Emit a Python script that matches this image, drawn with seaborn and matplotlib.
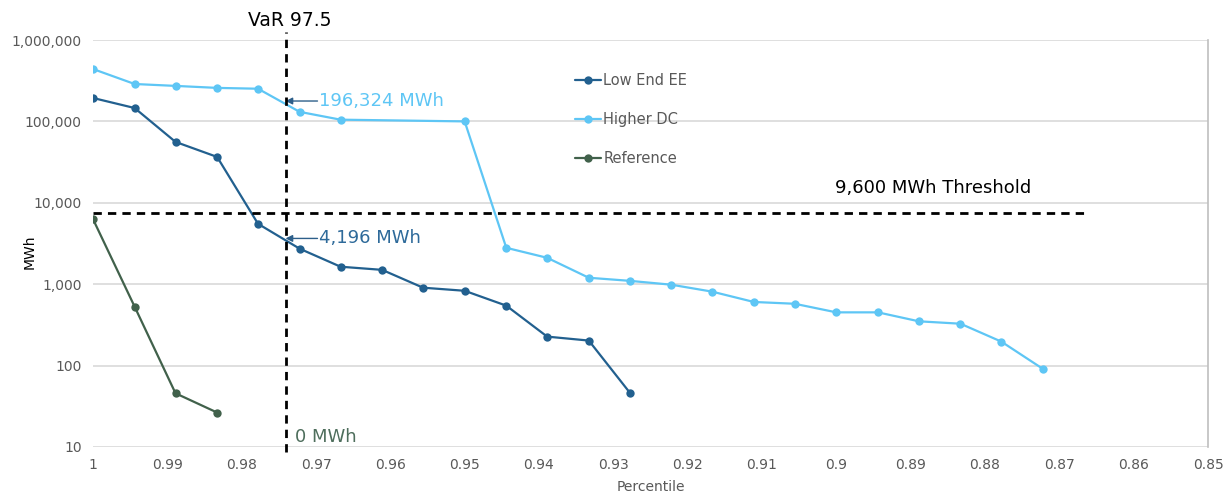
import numpy as np
import pandas as pd
import seaborn as sns
import matplotlib
matplotlib.use('Agg')
import matplotlib.pyplot as plt
from matplotlib.ticker import FixedLocator, FuncFormatter

# data
low_pct = [1.0, 0.9944, 0.9889, 0.9833, 0.9778, 0.9722, 0.9667, 0.9611, 0.9556, 0.95,
           0.9444, 0.9389, 0.9333, 0.9278]
low_mwh = [194000, 146000, 56000, 36600, 5520, 2730, 1640, 1500, 906, 830,
           545, 227, 203, 46.7]
high_pct = [1.0, 0.9944, 0.9889, 0.9833, 0.9778, 0.9722, 0.9667, 0.95, 0.9444, 0.9389,
            0.9333, 0.9278, 0.9222, 0.9167, 0.9111, 0.9056, 0.9, 0.8944, 0.8889, 0.8833,
            0.8778, 0.8722]
high_mwh = [440000, 288000, 273000, 258000, 252000, 131000, 105000, 100000, 2800, 2110,
            1200, 1100, 986, 810, 605, 575, 451, 451, 350, 327,
            197, 91]
ref_pct = [1.0, 0.9944, 0.9889, 0.9833]
ref_mwh = [6300, 530, 45.7, 26.5]

series_names = ['Low End EE', 'Higher DC', 'Reference']
colors = {'Low End EE': '#22608F', 'Higher DC': '#5EC6F5', 'Reference': '#41614B'}

var_pct = 0.9741
threshold_mwh = 7500
threshold_end = 0.866
xticks = [1, 0.99, 0.98, 0.97, 0.96, 0.95, 0.94, 0.93, 0.92, 0.91, 0.9, 0.89, 0.88, 0.87, 0.86, 0.85]
yticks = [10, 100, 1000, 10000, 100000, 1000000]

df = pd.concat([
    pd.DataFrame({'pct': low_pct, 'mwh': low_mwh, 'series': 'Low End EE'}),
    pd.DataFrame({'pct': high_pct, 'mwh': high_mwh, 'series': 'Higher DC'}),
    pd.DataFrame({'pct': ref_pct, 'mwh': ref_mwh, 'series': 'Reference'}),
])

sns.set_theme(style='white')
plt.rcParams['font.family'] = ['DejaVu Sans']

fig = plt.figure(figsize=(12.25, 4.97), dpi=100)
ax = fig.add_axes([93/1225, 1-447/497, (1208-93)/1225, 407/497])

sns.lineplot(data=df, x='pct', y='mwh', hue='series', hue_order=series_names,
             palette=colors, marker='o', markersize=6, markeredgewidth=0,
             linewidth=1.6, sort=False, estimator=None, ax=ax)

ax.set_yscale('log')
ax.set_xlim(1, 0.85)
ax.set_ylim(10, 1000000)
ax.xaxis.set_major_locator(FixedLocator(xticks))
ax.xaxis.set_major_formatter(FuncFormatter(lambda v, p: '{:g}'.format(round(v, 2))))
ax.yaxis.set_major_locator(FixedLocator(yticks))
ax.yaxis.set_major_formatter(FuncFormatter(lambda v, p: '{:,.0f}'.format(v)))
ax.yaxis.set_minor_locator(FixedLocator([]))
ax.tick_params(axis='both', length=0, labelsize=10, labelcolor='#595959', pad=8)
ax.grid(axis='y', color='#D9D9D9', linewidth=1.2)
for s in ['top', 'left', 'bottom']:
    ax.spines[s].set_visible(False)
ax.spines['right'].set_color('#BFBFBF')
ax.spines['right'].set_linewidth(1.2)

ax.set_xlabel('Percentile', fontsize=10, color='#595959', labelpad=6)
ax.set_ylabel('')
fig.text(30/1225, 1-252/497, 'MWh', rotation=90, fontsize=10, color='black',
         ha='center', va='center')

# VaR line and threshold
ax.axvline(var_pct, ymin=-5/407, ymax=1+8/407, color='black', linewidth=2,
           dashes=(3, 2.2), clip_on=False, zorder=5)
ax.hlines(threshold_mwh, 1.0, threshold_end, color='black', linewidth=2,
          linestyles=(0, (3, 2.2)), zorder=5)
fig.text(290/1225, 1-20/497, 'VaR 97.5', fontsize=13.5, color='black', ha='center', va='center')
ax.text(0.887, 15200, '9,600 MWh Threshold', fontsize=13, color='black', ha='center', va='center')

# annotations
arrow_kw = dict(arrowstyle='-|>', color='#2D5F8A', lw=1, mutation_scale=10, shrinkA=0, shrinkB=0)
ax.annotate('', xy=(var_pct, 178000), xytext=(0.9698, 178000), arrowprops=arrow_kw)
ax.text(0.9696, 178000, '196,324 MWh', fontsize=13, color='#5EC6F5', ha='left', va='center')
ax.annotate('', xy=(var_pct, 3650), xytext=(0.9698, 3650), arrowprops=arrow_kw)
ax.text(0.9696, 3650, '4,196 MWh', fontsize=13, color='#2E6A9A', ha='left', va='center')
ax.text(0.9728, 13.3, '0 MWh', fontsize=13, color='#4E6E5C', ha='left', va='center')

handles, labels = ax.get_legend_handles_labels()
ax.legend(handles, labels, loc='upper left', bbox_to_anchor=((575-93)/1115, (447-73)/407),
          frameon=False, borderaxespad=0, borderpad=0, handlelength=1.8, handletextpad=0.15,
          labelspacing=1.66, fontsize=10.5, labelcolor='#595959')

fig.savefig('out.png', dpi=100)
